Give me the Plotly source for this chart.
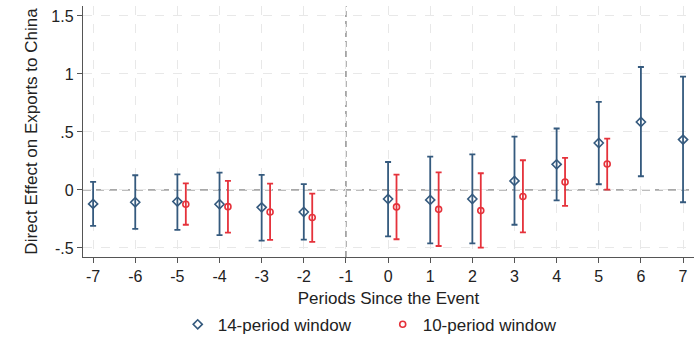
import plotly.graph_objects as go

# ---------------- data ----------------
periods_14 = [-7, -6, -5, -4, -3, -2, 0, 1, 2, 3, 4, 5, 6, 7]
coef_14 = [-0.12, -0.106, -0.10, -0.123, -0.15, -0.19, -0.078, -0.086, -0.078, 0.078, 0.221, 0.405, 0.586, 0.434]
hi_14 = [0.07, 0.127, 0.135, 0.15, 0.13, 0.05, 0.241, 0.287, 0.307, 0.46, 0.53, 0.76, 1.06, 0.977]
lo_14 = [-0.31, -0.336, -0.345, -0.39, -0.437, -0.428, -0.40, -0.46, -0.46, -0.30, -0.089, 0.049, 0.118, -0.106]

periods_10 = [-5, -4, -3, -2, 0, 1, 2, 3, 4, 5]
coef_10 = [-0.123, -0.144, -0.19, -0.238, -0.146, -0.167, -0.178, -0.057, 0.069, 0.224]
hi_10 = [0.057, 0.078, 0.054, -0.032, 0.132, 0.152, 0.144, 0.256, 0.276, 0.443]
lo_10 = [-0.30, -0.368, -0.43, -0.448, -0.425, -0.483, -0.497, -0.365, -0.138, 0.003]

x_ticks = list(range(-7, 8))
y_tickvals = [-0.5, 0, 0.5, 1, 1.5]
y_ticktext = ["-.5", "0", ".5", "1", "1.5"]

EVENT_PERIOD = -1
REF_LEVEL = 0
OFFSET_10 = 0.2

BLUE = "#355a7e"
RED = "#e5323b"
FONT = "Liberation Sans, Arial, sans-serif"
TXT = "#222222"

fig = go.Figure()

fig.add_trace(go.Scatter(
    x=periods_14, y=coef_14, mode="markers", name="14-period window",
    marker=dict(symbol="diamond-open", size=7, color=BLUE, line=dict(width=1.6, color=BLUE)),
    error_y=dict(type="data", symmetric=False,
                 array=[h - c for h, c in zip(hi_14, coef_14)],
                 arrayminus=[c - l for l, c in zip(lo_14, coef_14)],
                 color=BLUE, thickness=1.8, width=3),
))
fig.add_trace(go.Scatter(
    x=[p + OFFSET_10 for p in periods_10], y=coef_10, mode="markers", name="10-period window",
    marker=dict(symbol="circle-open", size=6, color=RED, line=dict(width=1.6, color=RED)),
    error_y=dict(type="data", symmetric=False,
                 array=[h - c for h, c in zip(hi_10, coef_10)],
                 arrayminus=[c - l for l, c in zip(lo_10, coef_10)],
                 color=RED, thickness=1.8, width=3),
))

# reference lines
fig.add_shape(type="line", xref="paper", x0=0, x1=1, yref="y", y0=REF_LEVEL, y1=REF_LEVEL,
              line=dict(color="#a8a8a8", width=1.8, dash="8px,5px"), layer="below")
fig.add_shape(type="line", xref="x", x0=EVENT_PERIOD, x1=EVENT_PERIOD, yref="paper", y0=0, y1=1,
              line=dict(color="#8a8a8a", width=1.4, dash="6px,4px"), layer="below")

fig.update_layout(
    width=694, height=342,
    margin=dict(l=83, r=0, t=6, b=85, autoexpand=False),
    paper_bgcolor="white", plot_bgcolor="white",
    font=dict(family=FONT, color=TXT, size=16),
    showlegend=True,
    legend=dict(orientation="h", x=0.155, xanchor="left", y=-0.27, yanchor="middle",
                font=dict(size=17, color=TXT), itemwidth=30,
                entrywidth=160, entrywidthmode="pixels", bgcolor="rgba(0,0,0,0)"),
)
fig.update_xaxes(
    range=[-7.24, 7.26], tickvals=x_ticks, ticktext=[str(t) for t in x_ticks],
    showline=True, linecolor="#555555", linewidth=1.4,
    ticks="outside", ticklen=5, tickcolor="#555555", tickwidth=1.2,
    showgrid=True, gridcolor="#e8e8e8", griddash="dash", gridwidth=1,
    zeroline=False, tickfont=dict(size=16),
    title=dict(text="Periods Since the Event", font=dict(size=17), standoff=7),
)
fig.update_yaxes(
    range=[-0.578, 1.586], tickvals=y_tickvals, ticktext=y_ticktext,
    showline=True, linecolor="#555555", linewidth=1.4,
    ticks="outside", ticklen=5, tickcolor="#555555", tickwidth=1.2,
    showgrid=True, gridcolor="#e8e8e8", griddash="dash", gridwidth=1,
    zeroline=False, tickfont=dict(size=16),
    title=dict(text="Direct Effect on Exports to China", font=dict(size=17), standoff=9),
)

fig.write_html("out.html")
